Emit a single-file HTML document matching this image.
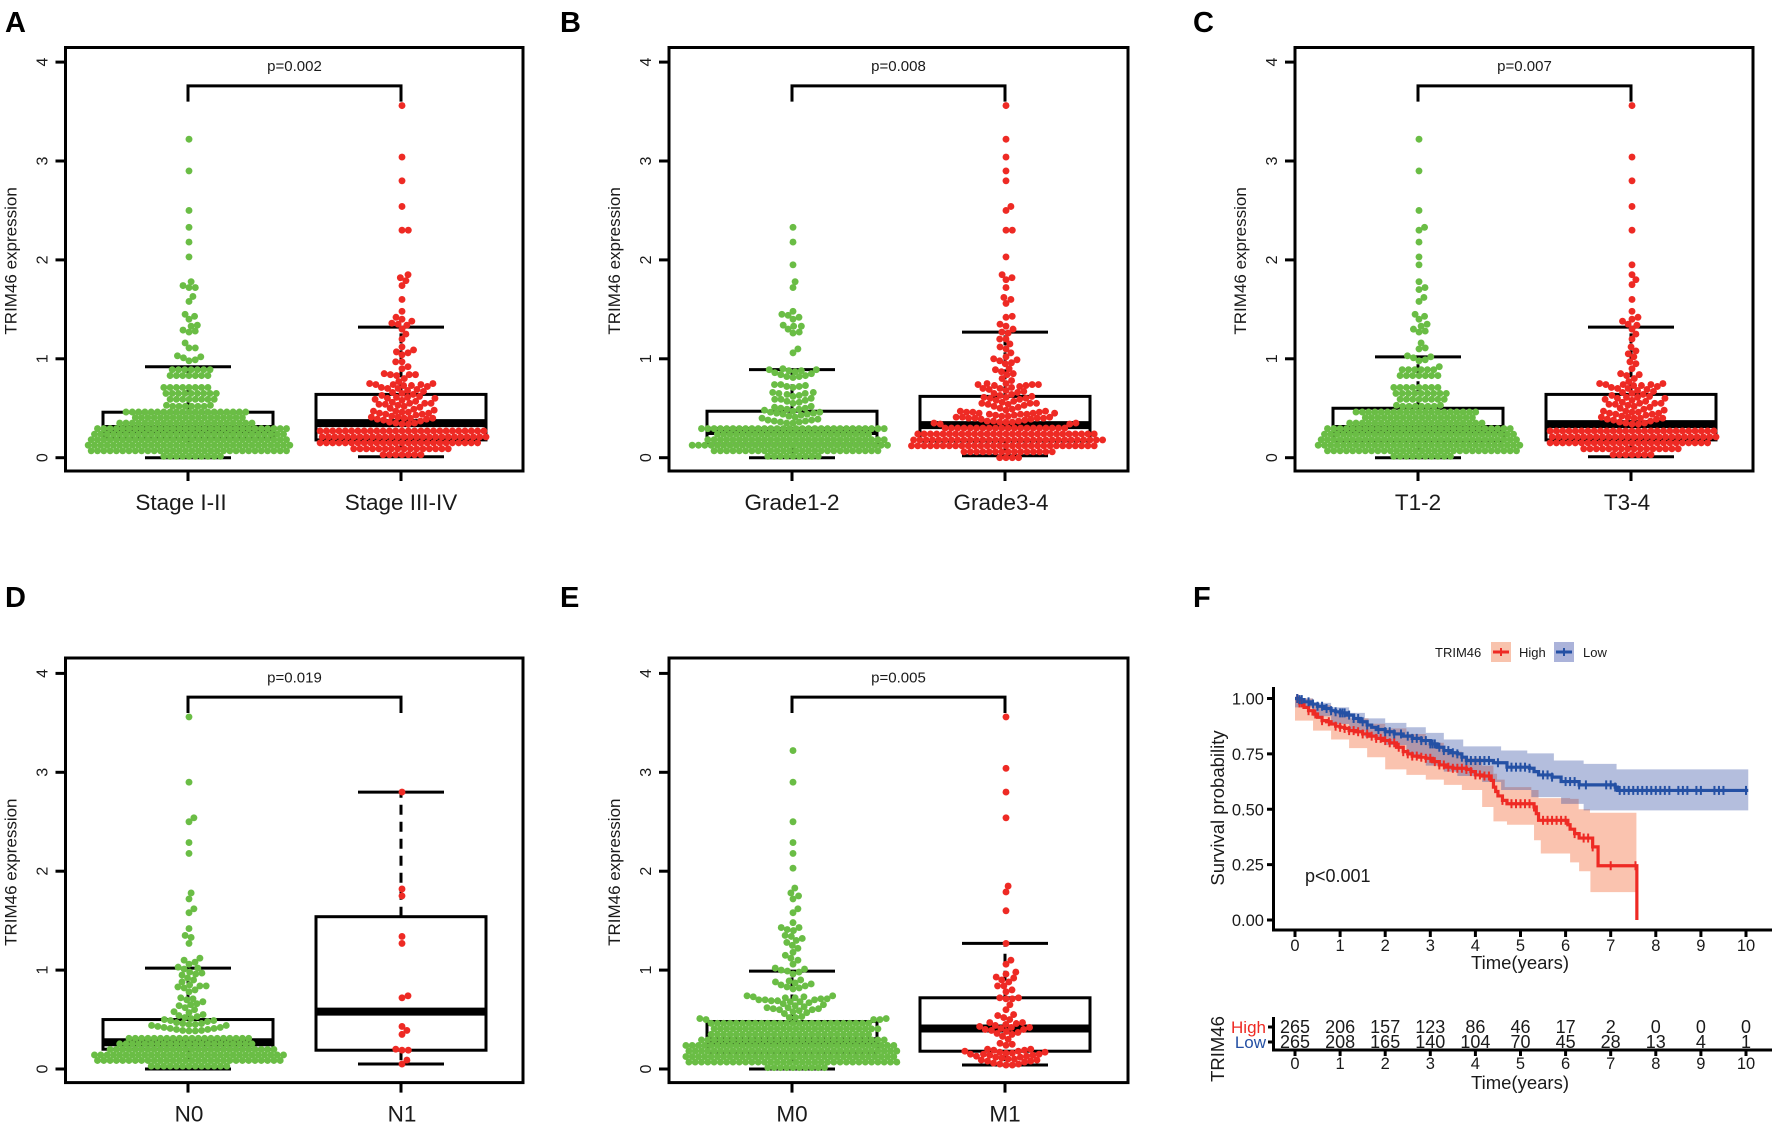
<!DOCTYPE html>
<html lang="en">
<head>
<meta charset="utf-8">
<title>TRIM46 expression figure</title>
<style>
html,body{margin:0;padding:0;background:#fff;}
svg{display:block;font-family:"Liberation Sans",sans-serif;}
</style>
</head>
<body>
<svg id="figure" width="1772" height="1128" viewBox="0 0 1772 1128"></svg>
<script>
// ---------- swarm data (TRIM46 expression) ----------
// dense low-expression rows are stored as row value + number of dots in that row
const acGreenRowValues=[.014,.07,.126,.182,.238,.294,.35,.406,.462];
const aGreenRowCounts=[10,32,33,32,31,31,22,18,20];
const cGreenRowCounts=[10,31,33,32,31,30,22,18,20];
const bGreenRowValues=[.014,.07,.126,.182,.238,.294];
const bGreenRowCounts=[9,27,32,29,25,30];
const dGreenRowValues=[.03,.086,.142,.198,.254,.31];
const dGreenRowCounts=[13,30,31,27,22,20];
const eGreenRowValues=[.014,.07,.126,.182,.238,.294,.35,.406,.462];
const eGreenRowCounts=[10,34,34,34,34,30,26,27,26];
const acRedRowValues=[.03,.09,.15,.21,.27];
const acRedRowCounts=[7,16,26,27,27];
const bRedRowValues=[0,.06,.12,.18,.24,.3];
const bRedRowCounts=[4,15,30,31,29,20];

const greenMidWide=[.71,.71,.71,.71,.71,.71,.71,.71,.65,.65,.65,.65,.65,.65,.65,.65,.65,.59,.59,.59,.59,.59,.59,.59,.59,.53,.53,.52,.52,.52,.52,.52,.52];
const redMid=[.75,.75,.74,.74,.74,.73,.73,.72,.71,.7,.7,.69,.68,.67,.66,.65,.64,.63,.62,.61,.61,.6,.6,.59,.58,.57,.56,.55,.55,.55,.54,.54,.53,.52,.51,.5,.49,.48,.47,.47,.46,.46,.45,.45,.44,.44,.43,.42,.41,.41,.4,.4,.4,.39,.39,.38,.37,.36,.35,.35,.34,.34];

function expandRows(rowValues,rowCounts){
  const out=[];
  rowValues.forEach(function(v,i){for(let k=0;k<rowCounts[i];k++){out.push(v);}});
  return out;
}
const aGreen=[3.22,2.9,2.5,2.33,2.18,2.03,1.78,1.74,1.72,1.72,1.63,1.58,1.45,1.43,1.4,1.34,1.33,1.29,1.28,1.27,1.16,1.11,1.11,1.03,1.02,1.01,.99,.98,.89,.89,.89,.89,.89,.89,.89,.83,.83,.83,.83,.83,.83,.83].concat(greenMidWide,expandRows(acGreenRowValues,aGreenRowCounts));
const aRed=[3.56,3.04,2.8,2.54,2.3,2.3,1.85,1.82,1.79,1.74,1.6,1.48,1.42,1.4,1.38,1.36,1.35,1.34,1.3,1.25,1.2,1.12,1.09,1.07,1.06,1.04,.97,.97,.92,.9,.85,.84,.84,.84,.83,.8,.77].concat(redMid,expandRows(acRedRowValues,acRedRowCounts));
const bGreen=[2.33,2.18,1.95,1.78,1.72,1.48,1.45,1.44,1.42,1.4,1.34,1.33,1.33,1.3,1.27,1.26,1.1,1.06,.9,.89,.89,.88,.88,.87,.86,.85,.84,.83,.82,.82,.81,.74,.74,.73,.72,.72,.71,.66,.66,.65,.65,.64,.63,.62,.6,.59,.59,.58,.57,.56,.55,.52,.51,.5,.5,.49,.49,.48,.47,.46,.46,.45,.45,.44,.44,.43,.42,.41,.4,.39,.38,.38,.37,.37,.36,.36,.35,.35].concat(expandRows(bGreenRowValues,bGreenRowCounts));
const bRed=[3.56,3.22,3.04,2.9,2.8,2.54,2.5,2.3,2.3,2.03,1.85,1.82,1.8,1.72,1.62,1.6,1.56,1.43,1.42,1.35,1.33,1.3,1.27,1.26,1.2,1.2,1.15,1.12,1.1,1.06,1.02,1.0,.99,.98,.96,.95,.9,.89,.87,.85,.84,.8,.78].concat(redMid,[.46,.45,.44,.43,.42,.41,.4,.37,.37,.36,.36],expandRows(bRedRowValues,bRedRowCounts));
const cGreen=[3.22,2.9,2.5,2.33,2.3,2.18,2.03,1.95,1.78,1.72,1.7,1.62,1.58,1.45,1.43,1.4,1.35,1.33,1.3,1.28,1.27,1.16,1.11,1.1,1.03,1.02,1.01,.99,.98,.92,.89,.89,.89,.89,.89,.89,.83,.83,.83,.83,.83,.83,.83].concat(greenMidWide,expandRows(acGreenRowValues,cGreenRowCounts));
const cRed=[3.56,3.04,2.8,2.54,2.3,1.95,1.85,1.8,1.75,1.6,1.48,1.42,1.4,1.38,1.35,1.34,1.3,1.25,1.2,1.12,1.08,1.05,1.02,.97,.95,.9,.85,.84,.83,.8,.77].concat(redMid,expandRows(acRedRowValues,acRedRowCounts));
const dGreen=[3.56,2.9,2.54,2.5,2.29,2.18,1.78,1.72,1.62,1.58,1.42,1.35,1.33,1.27,1.12,1.1,1.08,1.06,1.03,1.02,1.01,.98,.97,.96,.95,.92,.9,.88,.85,.84,.84,.83,.82,.8,.78,.72,.71,.7,.68,.66,.65,.64,.62,.6,.58,.57,.55,.54,.53,.52,.51,.5,.49,.49,.48,.47,.46,.46,.45,.45,.44,.44,.43,.42,.42,.41,.41,.4,.4,.39,.39,.385,.385].concat(expandRows(dGreenRowValues,dGreenRowCounts));
const dRed=[2.8,1.82,1.75,1.34,1.27,.74,.72,.43,.39,.35,.2,.19,.19,.09,.05];
const eGreen=[3.22,2.9,2.5,2.29,2.18,2.03,1.83,1.78,1.75,1.72,1.62,1.58,1.48,1.43,1.43,1.41,1.4,1.35,1.34,1.32,1.3,1.28,1.25,1.22,1.18,1.15,1.12,1.1,1.06,1.02,1.01,1.0,.99,.98,.96,.9,.89,.88,.87,.86,.85,.84,.83,.82,.81,.74,.74,.73,.73,.72,.72,.71,.71,.7,.7,.7,.69,.69,.68,.68,.67,.66,.65,.64,.63,.62,.62,.61,.61,.6,.6,.59,.58,.57,.56,.53,.52,.52,.51,.51,.5,.5,.5].concat(expandRows(eGreenRowValues,eGreenRowCounts));
const eRed=[3.56,3.04,2.8,2.54,1.85,1.79,1.6,1.27,1.1,1.06,.98,.96,.93,.92,.9,.88,.84,.84,.8,.78,.72,.72,.71,.71,.65,.6,.55,.54,.52,.5,.47,.47,.46,.45,.44,.43,.42,.42,.41,.4,.4,.39,.38,.37,.36,.35,.33,.3,.26,.25,.24,.2,.2,.19,.19,.18,.18,.17,.17,.16,.16,.15,.15,.15,.14,.14,.13,.13,.12,.12,.11,.1,.1,.09,.09,.08,.08,.07,.06,.05,.05,.04,.04];

// box stats: [lower whisker, q1, median, q3, upper whisker]
const aGreenBox=[0,.2,.29,.46,.92];
const aRedBox=[.01,.18,.35,.64,1.32];
const bGreenBox=[0,.13,.27,.47,.89];
const bRedBox=[.02,.17,.33,.62,1.27];
const cGreenBox=[0,.17,.29,.5,1.02];
const cRedBox=[.01,.18,.34,.64,1.32];
const dGreenBox=[0,.2,.27,.5,1.02];
const dRedBox=[.05,.19,.58,1.54,2.8];
const eGreenBox=[0,.17,.28,.48,.99];
const eRedBox=[.04,.18,.41,.72,1.27];

const aCategories=["Stage I-II","Stage III-IV"];
const bCategories=["Grade1-2","Grade3-4"];
const cCategories=["T1-2","T3-4"];
const dCategories=["N0","N1"];
const eCategories=["M0","M1"];
const pLabels=["p=0.002","p=0.008","p=0.007","p=0.019","p=0.005"];
const exprTicks=[0,1,2,3,4];

// ---------- survival data ----------
const highTimes=[0,.1,.2,.3,.4,.5,.6,.7,.8,.9,1,1.1,1.2,1.35,1.5,1.65,1.8,1.95,2.1,2.25,2.4,2.5,2.6,2.75,2.9,3.05,3.2,3.35,3.5,3.8,3.9,4,4.15,4.3,4.35,4.4,4.45,4.5,4.6,4.7,5.3,5.35,5.4,6,6.05,6.1,6.2,6.3,6.6,6.72,7.58];
const highSurv=[1,.98,.96,.945,.93,.915,.9,.895,.885,.875,.87,.865,.855,.85,.84,.83,.82,.81,.8,.78,.76,.75,.74,.735,.73,.715,.7,.69,.685,.68,.67,.655,.65,.65,.63,.6,.58,.56,.54,.525,.51,.48,.45,.45,.43,.41,.39,.37,.33,.245,0];
const lowTimes=[0,.1,.2,.35,.5,.65,.8,.9,1,1.15,1.3,1.45,1.6,1.7,1.8,2,2.2,2.4,2.6,2.8,3,3.15,3.3,3.45,3.6,3.7,3.8,4.4,4.7,5.2,5.3,5.4,5.7,5.9,6.3,7.1,7.15,10.05];
const lowSurv=[1,.995,.985,.975,.965,.955,.945,.94,.935,.925,.91,.895,.88,.87,.86,.85,.84,.83,.82,.81,.795,.78,.765,.755,.75,.735,.72,.71,.69,.685,.67,.655,.645,.625,.61,.6,.585,.585];
const highUpperTimes=[0,.4,.8,1.2,1.63,2,2.47,2.9,3.3,3.7,4.15,4.4,4.48,4.65,5.24,5.4,6.1,6.29,6.54,7.57];
const highUpper=[1,.97,.94,.91,.886,.865,.84,.8,.76,.73,.697,.66,.634,.6,.587,.55,.547,.5,.484,.484];
const highLowerTimes=[0,.4,.8,1.2,1.6,2,2.47,2.9,3.3,3.7,4.15,4.4,4.7,5.3,5.45,6.1,6.3,6.55,6.72,7.57];
const highLower=[1,.9,.855,.815,.776,.735,.68,.655,.634,.61,.587,.51,.445,.43,.36,.3,.26,.22,.126,.126];
const lowUpperTimes=[0,.4,.8,1.2,1.55,2,2.47,2.9,3.3,3.73,4.57,5.15,5.74,6.4,7.13,10.05];
const lowUpper=[1,.98,.96,.935,.91,.89,.87,.845,.815,.784,.765,.752,.72,.705,.68,.68];
const lowLowerTimes=[0,.4,.8,1.2,1.55,2,2.47,2.9,3.3,3.6,4.15,4.57,5.24,5.9,6.4,7.13,10.05];
const lowLower=[1,.96,.92,.885,.855,.825,.79,.745,.697,.67,.65,.623,.587,.555,.524,.495,.495];
const highCensor=[.05,.1,.15,.3,.45,.6,.75,.9,1,1.1,1.2,1.3,1.4,1.5,1.6,1.7,1.8,1.9,2,2.1,2.2,2.3,2.4,2.5,2.6,2.7,2.8,2.9,3,3.1,3.2,3.3,3.4,3.5,3.6,3.7,3.8,3.9,4,4.1,4.2,4.3,4.6,4.8,4.9,5,5.1,5.2,5.3,5.5,5.6,5.7,5.8,5.9,6,6.2,6.4,6.5,6.6,7,7.55];
const lowCensor=[.05,.1,.15,.3,.4,.5,.6,.7,.8,.9,1,1.05,1.1,1.2,1.3,1.4,1.5,1.6,1.85,2,2.1,2.2,2.35,2.5,2.6,2.7,2.8,2.9,3,3.05,3.1,3.2,3.3,3.4,3.5,3.6,3.7,3.8,3.9,4,4.1,4.2,4.3,4.5,4.7,4.8,4.9,5,5.1,5.2,5.5,5.6,5.7,6,6.1,6.2,6.3,6.45,6.9,7,7.1,7.2,7.3,7.4,7.5,7.6,7.7,7.8,7.9,8,8.1,8.2,8.3,8.5,8.6,8.7,8.9,9,9.3,9.4,9.5,10];
const yearTicks=[0,1,2,3,4,5,6,7,8,9,10];
const survTicks=[0,.25,.5,.75,1];
const survTickLabels=["0.00","0.25","0.50","0.75","1.00"];
const riskHigh=[265,206,157,123,86,46,17,2,0,0,0];
const riskLow=[265,208,165,140,104,70,45,28,13,4,1];

// ---------- drawing ----------
const NS="http://www.w3.org/2000/svg";
const root=document.getElementById("figure");
function add(parent,tag,attrs,name){
  const el=document.createElementNS(NS,tag);
  for(const k in attrs){el.setAttribute(k,attrs[k]);}
  
  
  parent.appendChild(el);
  return el;
}
function line(p,x1,y1,x2,y2,w,name,extra){
  return add(p,"line",Object.assign({x1:x1,y1:y1,x2:x2,y2:y2,stroke:"#000","stroke-width":w},extra||{}),name);
}
function text(p,x,y,str,size,name,extra){
  const t=add(p,"text",Object.assign({x:x,y:y,"font-size":size,fill:"#1a1a1a"},extra||{}),name);
  t.textContent=str;
  return t;
}
function vtext(p,x,y,str,size,name){
  return text(p,x,y,str,size,name,{"text-anchor":"middle",transform:"rotate(-90 "+x+" "+y+")"});
}
function swarm(values,d,yOf){
  const sorted=values.slice().sort(function(a,b){return a-b;});
  const placed=[];
  sorted.forEach(function(v){
    const y=yOf(v);
    const cand=[0];
    placed.forEach(function(p){
      const dy=Math.abs(p.y-y);
      if(dy<d){const dx=Math.sqrt(d*d-dy*dy);cand.push(p.x+dx,p.x-dx);}
    });
    let best=null;
    cand.forEach(function(c){
      const ok=placed.every(function(p){const a=p.x-c,b=p.y-y;return a*a+b*b>=d*d-.01;});
      if(ok&&(best===null||Math.abs(c)<Math.abs(best)-1e-6)){best=c;}
    });
    placed.push({x:best,y:y});
  });
  return placed;
}
function drawPanel(cfg){
  const g=add(root,"g",{},"panel-"+cfg.id);
  const yOf=function(v){return cfg.y0-v*98.9;};
  text(g,cfg.letterX,cfg.letterY,cfg.id.toUpperCase(),29,"panel-letter-"+cfg.id,{"font-weight":"bold",fill:"#000"});
  exprTicks.forEach(function(t){
    line(g,cfg.left-10,yOf(t),cfg.left,yOf(t),3,"y-tick");
    vtext(g,cfg.left-18,yOf(t),String(t),16,"y-tick-label");
  });
  vtext(g,cfg.left-49,(cfg.y0+yOf(4))/2+1,"TRIM46 expression",17,"y-axis-title");
  cfg.cats.forEach(function(c,i){
    line(g,cfg.cx[i],cfg.bottom,cfg.cx[i],cfg.bottom+10,3,"x-tick");
    text(g,cfg.lx[i],cfg.bottom+39,c,22.5,"category-label-"+i,{"text-anchor":"middle"});
  });
  cfg.boxes.forEach(function(b,i){
    const cx=cfg.cx[i];
    line(g,cx,yOf(b[3]),cx,yOf(b[4]),3,"upper-whisker",{"stroke-dasharray":"10 7"});
    line(g,cx,yOf(b[1]),cx,yOf(b[0]),3,"lower-whisker",{"stroke-dasharray":"10 7"});
    line(g,cx-43,yOf(b[4]),cx+43,yOf(b[4]),3,"upper-cap");
    line(g,cx-43,yOf(b[0]),cx+43,yOf(b[0]),3,"lower-cap");
    add(g,"rect",{x:cx-85,y:yOf(b[3]),width:170,height:yOf(b[1])-yOf(b[3]),fill:"#fff",stroke:"#000","stroke-width":3},"box");
    line(g,cx-85,yOf(b[2]),cx+85,yOf(b[2]),8,"median-line");
  });
  add(g,"path",{d:"M"+cfg.cx[0]+" "+yOf(3.6)+"V"+yOf(3.76)+"H"+cfg.cx[1]+"V"+yOf(3.6),fill:"none",stroke:"#000","stroke-width":3},"significance-bracket");
  text(g,(cfg.cx[0]+cfg.cx[1])/2,yOf(3.91),cfg.p,15,"p-value",{"text-anchor":"middle"});
  cfg.series.forEach(function(vals,i){
    const color=i===0?"#6abd45":"#ee2a24";
    swarm(vals,6.3,yOf).forEach(function(pt){
      add(g,"circle",{cx:cfg.cx[i]+1+pt.x,cy:pt.y,r:3.45,fill:color},i===0?"dot-low-group":"dot-high-group");
    });
  });
  add(g,"rect",{x:cfg.left,y:cfg.top,width:cfg.right-cfg.left,height:cfg.bottom-cfg.top,fill:"none",stroke:"#000","stroke-width":3},"plot-frame");
}
const TOP1={top:47.5,bottom:471,y0:457.7,letterY:32};
const TOP2={top:658,bottom:1082.6,y0:1069,letterY:607};
const COL1={left:65.5,right:523,letterX:5,cx:[188,401]};
const COL2={left:669,right:1128,letterX:560,cx:[792,1005]};
const COL3={left:1295,right:1753,letterX:1193,cx:[1418,1631]};
drawPanel(Object.assign({id:"a",cats:aCategories,lx:[181,401],p:pLabels[0],boxes:[aGreenBox,aRedBox],series:[aGreen,aRed]},TOP1,COL1));
drawPanel(Object.assign({id:"b",cats:bCategories,lx:[792,1001],p:pLabels[1],boxes:[bGreenBox,bRedBox],series:[bGreen,bRed]},TOP1,COL2));
drawPanel(Object.assign({id:"c",cats:cCategories,lx:[1418,1627],p:pLabels[2],boxes:[cGreenBox,cRedBox],series:[cGreen,cRed]},TOP1,COL3));
drawPanel(Object.assign({id:"d",cats:dCategories,lx:[189,402],p:pLabels[3],boxes:[dGreenBox,dRedBox],series:[dGreen,dRed]},TOP2,COL1));
drawPanel(Object.assign({id:"e",cats:eCategories,lx:[792,1005],p:pLabels[4],boxes:[eGreenBox,eRedBox],series:[eGreen,eRed]},TOP2,COL2));

// ---------- panel F ----------
const fp=add(root,"g",{},"panel-f");
const tx=function(t){return 1295+t*45.1;};
const sy=function(s){return 920-s*221.5;};
function stepAt(times,vals,t){let v=vals[0];for(let i=0;i<times.length;i++){if(times[i]<=t){v=vals[i];}}return v;}
function stepPath(times,vals){let d="M"+tx(times[0])+" "+sy(vals[0]);for(let i=1;i<times.length;i++){d+="H"+tx(times[i])+"V"+sy(vals[i]);}return d;}
function ribbon(upT,up,loT,lo){
  let d=stepPath(upT,up);
  d+="L"+tx(loT[loT.length-1])+" "+sy(lo[lo.length-1]);
  for(let i=loT.length-1;i>0;i--){d+="H"+tx(loT[i-1])+"V"+sy(lo[i-1]);}
  return d+"Z";
}
text(fp,1193,607,"F",29,"panel-letter-f",{"font-weight":"bold",fill:"#000"});
text(fp,1435,657,"TRIM46",13,"legend-title");
add(fp,"rect",{x:1491,y:642,width:20,height:20,fill:"#f8c3ad"},"legend-key-high");
line(fp,1493,652,1509,652,3,"legend-line-high",{stroke:"#ee2a24"});
line(fp,1501,648,1501,656,2,"legend-censor-high",{stroke:"#ee2a24"});
text(fp,1519,657,"High",13,"legend-label-high");
add(fp,"rect",{x:1554,y:642,width:20,height:20,fill:"#abb3da"},"legend-key-low");
line(fp,1556,652,1572,652,3,"legend-line-low",{stroke:"#2450a4"});
line(fp,1564,648,1564,656,2,"legend-censor-low",{stroke:"#2450a4"});
text(fp,1583,657,"Low",13,"legend-label-low");

add(fp,"path",{d:ribbon(highUpperTimes,highUpper,highLowerTimes,highLower),fill:"#f15a22","fill-opacity":.36},"ci-band-high");
add(fp,"path",{d:ribbon(lowUpperTimes,lowUpper,lowLowerTimes,lowLower),fill:"#2e4aa0","fill-opacity":.36},"ci-band-low");
add(fp,"path",{d:stepPath(highTimes,highSurv),fill:"none",stroke:"#ee2a24","stroke-width":3.2},"survival-curve-high");
add(fp,"path",{d:stepPath(lowTimes,lowSurv),fill:"none",stroke:"#2450a4","stroke-width":3.2},"survival-curve-low");
highCensor.forEach(function(t){
  const y=sy(stepAt(highTimes,highSurv,t));
  line(fp,tx(t),y-4.5,tx(t),y+4.5,2,"censor-mark-high",{stroke:"#ee2a24"});
});
lowCensor.forEach(function(t){
  const y=sy(stepAt(lowTimes,lowSurv,t));
  line(fp,tx(t),y-4.5,tx(t),y+4.5,2,"censor-mark-low",{stroke:"#2450a4"});
});
line(fp,1273.5,687,1273.5,931,3,"survival-y-axis");
line(fp,1272,930,1772,930,3,"survival-x-axis");
survTicks.forEach(function(s,i){
  line(fp,1267,sy(s),1273,sy(s),3,"survival-y-tick");
  text(fp,1264,sy(s)+6,survTickLabels[i],16.5,"survival-y-tick-label",{"text-anchor":"end"});
});
yearTicks.forEach(function(t){
  line(fp,tx(t),930,tx(t),937,3,"survival-x-tick");
  text(fp,tx(t),951,String(t),16.5,"survival-x-tick-label",{"text-anchor":"middle"});
  line(fp,tx(t),1050,tx(t),1056,3,"risk-x-tick");
  text(fp,tx(t),1069,String(t),16.5,"risk-x-tick-label",{"text-anchor":"middle"});
});
text(fp,1520,969,"Time(years)",18.5,"survival-x-axis-title",{"text-anchor":"middle"});
vtext(fp,1224,808,"Survival probability",18.5,"survival-y-axis-title");
text(fp,1305,882,"p<0.001",18,"survival-p-value");

line(fp,1273.5,1017,1273.5,1051,3,"risk-y-axis");
line(fp,1272,1050,1772,1050,3,"risk-x-axis");
line(fp,1268,1027,1273,1027,3,"risk-y-tick-high");
line(fp,1268,1042,1273,1042,3,"risk-y-tick-low");
text(fp,1266,1033,"High",17,"risk-row-label-high",{"text-anchor":"end",fill:"#ee2a24"});
text(fp,1266,1048,"Low",17,"risk-row-label-low",{"text-anchor":"end",fill:"#2450a4"});
vtext(fp,1224,1049,"TRIM46",18.5,"risk-table-title");
riskHigh.forEach(function(n,i){
  text(fp,tx(yearTicks[i]),1033,String(n),18,"risk-count-high",{"text-anchor":"middle"});
});
riskLow.forEach(function(n,i){
  text(fp,tx(yearTicks[i]),1048,String(n),18,"risk-count-low",{"text-anchor":"middle"});
});
text(fp,1520,1089,"Time(years)",18.5,"risk-x-axis-title",{"text-anchor":"middle"});
</script>
</body>
</html>
